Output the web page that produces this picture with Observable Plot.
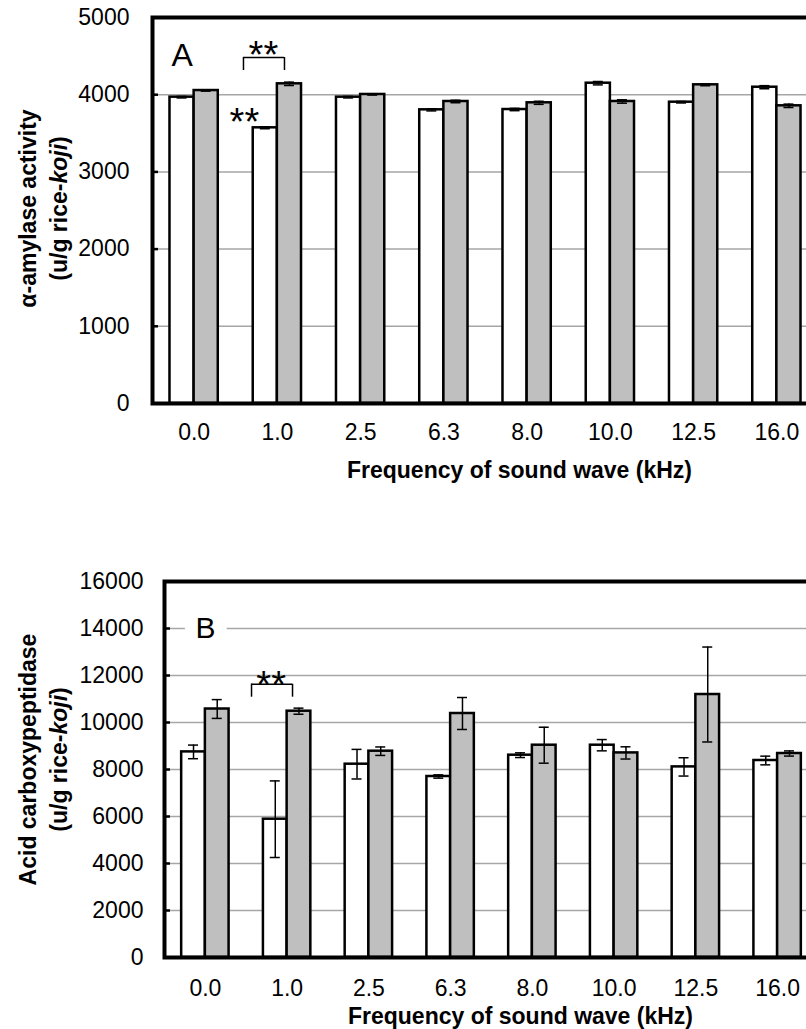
<!DOCTYPE html>
<html><head><meta charset="utf-8">
<script src="https://cdn.jsdelivr.net/npm/d3@7"></script>
<script src="https://cdn.jsdelivr.net/npm/@observablehq/plot@0.6"></script>
<style>
html,body{margin:0;padding:0;background:#fff;overflow:hidden;width:806px;height:1029px;}
#chart svg{display:block;}
</style></head><body><div id="chart"></div>
<script>
// ---------- data ----------
const freqs = ["0.0","1.0","2.5","6.3","8.0","10.0","12.5","16.0"];

const amylaseControl    = [3968, 3571, 3968, 3804, 3808, 4149, 3903, 4097];
const amylaseControlErr = [10, 12, 10, 14, 15, 22, 10, 20];
const amylaseSound      = [4054, 4141, 4003, 3912, 3895, 3912, 4128, 3856];
const amylaseSoundErr   = [8, 22, 8, 16, 20, 22, 12, 22];
const amylaseTicks      = [0, 1000, 2000, 3000, 4000, 5000];

const acpControl    = [8749, 5885, 8226, 7702, 8609, 9034, 8111, 8383];
const acpControlErr = [290, 1630, 630, 70, 100, 240, 390, 185];
const acpSound      = [10574, 10481, 8779, 10383, 9034, 8706, 11191, 8681];
const acpSoundErr   = [400, 130, 180, 680, 765, 260, 2020, 110];
const acpTicks      = [0, 2000, 4000, 6000, 8000, 10000, 12000, 14000, 16000];

const xTitle = "Frequency of sound wave (kHz)";
const amylaseTitle = "α-amylase activity\n(u/g rice-koji)";
const acpTitle = "Acid carboxypeptidase\n(u/g rice-koji)";

// significance annotations (category, value)
const amylaseStarsBeside = [{freq: "1.0", v: 3630, label: "**"}];
const amylaseStarsAbove  = [{freq: "1.0", v: 4503, label: "**"}];
const amylaseBracket     = [{freq: "1.0", top: 4482, bottom: 4313}];
const acpStarsAbove      = [{freq: "1.0", v: 11570, label: "**"}];
const acpBracket         = [{freq: "1.0", top: 11630, bottom: 11077}];
const amylaseLetter = [{freq: "0.0", v: 4508, label: "A"}];
const acpLetter     = [{freq: "0.0", v: 14000, label: "B"}];

// ---------- drawing ----------
const W = 806;
const FONT = "'Liberation Sans', Arial, Helvetica, sans-serif";

function rows(vals, errs) { return freqs.map((f, i) => ({freq: f, v: vals[i], e: errs[i]})); }

function panel(cfg) {
  const n = freqs.length, pi = 0.42, po = 0.21;
  const step = (W - cfg.marginRight - cfg.marginLeft) / (n - pi + 2 * po);
  const bw = step * (1 - pi);
  const half = bw / 2, q = bw / 4, cap = 5;
  const ctrl = rows(cfg.ctrl, cfg.ctrlErr);
  const snd = rows(cfg.snd, cfg.sndErr);
  const grid = cfg.ticks.filter(t => t > 0 && t < cfg.yMax);
  const errStyle = {stroke: "#000", strokeWidth: 1.5};
  const marks = [
    Plot.ruleY(grid, {stroke: "#a6a6a6", strokeWidth: 1.5}),
    Plot.text(cfg.letter, {x: "freq", y: "v", text: "label", dx: cfg.letterDx, fontSize: cfg.letterSize,
      lineAnchor: "middle", fill: "#000", stroke: "#fff", strokeWidth: cfg.letterHalo, paintOrder: "stroke"}),
    Plot.barY(ctrl, {x: "freq", y: "v", fill: "#ffffff", stroke: "#000", strokeWidth: 2.5, insetRight: half}),
    Plot.barY(snd, {x: "freq", y: "v", fill: "#bfbfbf", stroke: "#000", strokeWidth: 2.5, insetLeft: half}),
    Plot.ruleX(ctrl, {x: "freq", y1: d => d.v - d.e, y2: d => d.v + d.e, dx: -q, ...errStyle}),
    Plot.ruleX(snd, {x: "freq", y1: d => d.v - d.e, y2: d => d.v + d.e, dx: q, ...errStyle}),
    Plot.tickY(ctrl, {x: "freq", y: d => d.v + d.e, insetLeft: q - cap, insetRight: bw - q - cap, ...errStyle}),
    Plot.tickY(ctrl, {x: "freq", y: d => d.v - d.e, insetLeft: q - cap, insetRight: bw - q - cap, ...errStyle}),
    Plot.tickY(snd, {x: "freq", y: d => d.v + d.e, insetLeft: 3 * q - cap, insetRight: q - cap, ...errStyle}),
    Plot.tickY(snd, {x: "freq", y: d => d.v - d.e, insetLeft: 3 * q - cap, insetRight: q - cap, ...errStyle}),
    Plot.frame({stroke: "#000", strokeWidth: 4}),
    Plot.axisY({ticks: cfg.ticks, tickSize: 0, tickPadding: cfg.yPad, fontSize: 23, label: null, tickFormat: d => String(d)}),
    Plot.axisY({ticks: grid, tickSize: 6, insetLeft: 6, tickFormat: () => "", label: null, strokeWidth: 2.5}),
    Plot.axisX({tickSize: 0, tickPadding: cfg.xPad, fontSize: 23, label: null}),
    Plot.text([xTitle], {frameAnchor: "bottom", lineAnchor: "top", dy: cfg.xTitleDy, dx: cfg.xTitleDx,
      fontWeight: "bold", fontSize: 23, fill: "#000"}),
    Plot.text([cfg.yTitle], {frameAnchor: "left", dx: 41 - cfg.marginLeft, dy: cfg.yTitleDy, rotate: -90,
      textAnchor: "middle", lineAnchor: "middle", lineHeight: 1.35, fontWeight: "bold", fontSize: 23, fill: "#000"}),
    Plot.text(cfg.stars, {x: "freq", y: "v", text: "label", dx: cfg.starsDx, fontSize: 38, lineAnchor: "middle", fill: "#000"}),
    Plot.tickY(cfg.bracket, {x: "freq", y: "top", insetLeft: cfg.brL, insetRight: cfg.brR, stroke: "#000", strokeWidth: 1.5}),
    Plot.ruleX(cfg.bracket, {x: "freq", y1: "top", y2: "bottom", dx: cfg.legL, stroke: "#000", strokeWidth: 1.5}),
    Plot.ruleX(cfg.bracket, {x: "freq", y1: "top", y2: "bottom", dx: cfg.legR, stroke: "#000", strokeWidth: 1.5})
  ];
  if (cfg.stars2) marks.push(Plot.text(cfg.stars2.data, {x: "freq", y: "v", text: "label", dx: cfg.stars2.dx, fontSize: 38, lineAnchor: "middle", fill: "#000"}));
  const svg = Plot.plot({
    width: W, height: cfg.height,
    marginLeft: cfg.marginLeft, marginRight: cfg.marginRight, marginTop: cfg.marginTop, marginBottom: cfg.marginBottom,
    style: {fontFamily: FONT, fontSize: "23px", color: "#000", background: "#fff", overflow: "hidden", maxWidth: "none"},
    x: {type: "band", domain: freqs, paddingInner: pi, paddingOuter: po, round: false},
    y: {domain: [0, cfg.yMax]},
    marks
  });
  // italic "koji"
  d3.select(svg).selectAll("tspan").each(function () {
    if (this.textContent === "(u/g rice-koji)") {
      const t = d3.select(this);
      t.text("(u/g rice-");
      t.append("tspan").attr("font-style", "italic").text("koji");
      t.append("tspan").text(")");
    }
  });
  return svg;
}

const chart = document.getElementById("chart");
chart.appendChild(panel({
  height: 490, marginLeft: 152, marginRight: -12, marginTop: 17, marginBottom: 87,
  ctrl: amylaseControl, ctrlErr: amylaseControlErr, snd: amylaseSound, sndErr: amylaseSoundErr,
  ticks: amylaseTicks, yMax: 5000, yPad: 23, xPad: 20, xTitleDy: 58, xTitleDx: 34, yTitle: amylaseTitle, yTitleDy: -2,
  letter: amylaseLetter, letterDx: -12, letterSize: 32, letterHalo: 0,
  stars: amylaseStarsAbove, starsDx: -14, bracket: amylaseBracket, brL: -9.7, brR: 17, legL: -33.9, legR: 7.1,
  stars2: {data: amylaseStarsBeside, dx: -33}
}));
chart.appendChild(panel({
  height: 539, marginLeft: 164, marginRight: -12, marginTop: 91, marginBottom: 72,
  ctrl: acpControl, ctrlErr: acpControlErr, snd: acpSound, sndErr: acpSoundErr,
  ticks: acpTicks, yMax: 16000, yPad: 21, xPad: 22, xTitleDy: 50, xTitleDx: 29, yTitle: acpTitle, yTitleDy: -10,
  letter: acpLetter, letterDx: 0, letterSize: 30, letterHalo: 26,
  stars: acpStarsAbove, starsDx: -16, bracket: acpBracket, brL: -11.9, brR: 18.3, legL: -35.6, legR: 5.4
}));
</script>
</body></html>
